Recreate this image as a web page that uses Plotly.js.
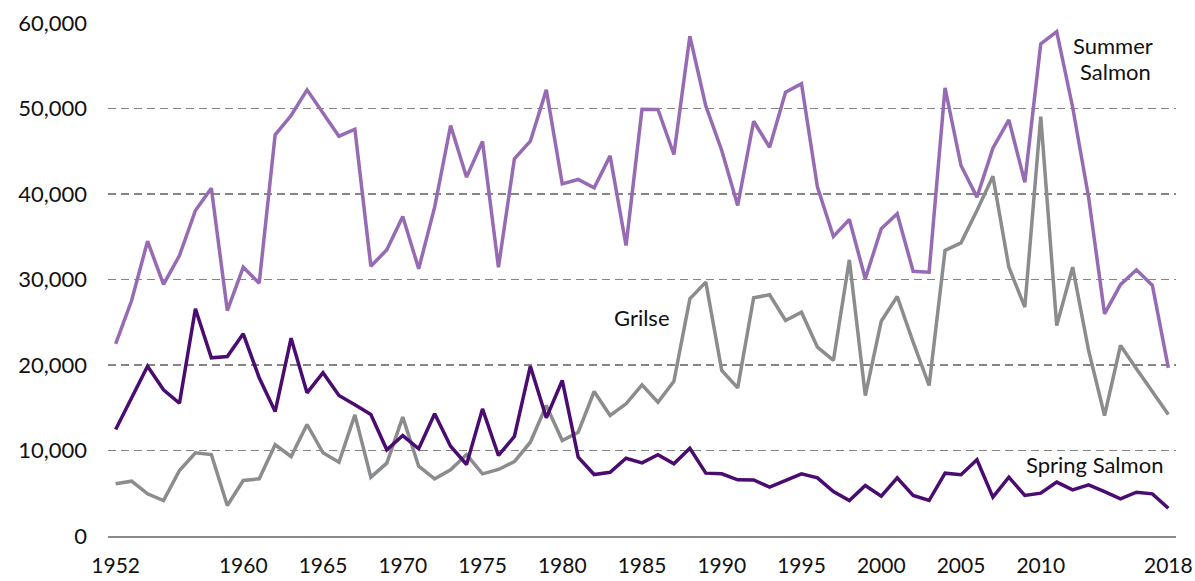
<!DOCTYPE html>
<html>
<head>
<meta charset="utf-8">
<script src="https://cdn.plot.ly/plotly-3.0.1.min.js"></script>
<style>
  html, body { margin: 0; padding: 0; background: #ffffff; }
  #chart { width: 1195px; height: 581px; }
</style>
</head>
<body>
<div id="chart"></div>
<script>
const years = [];
for (let y = 1952; y <= 2018; y++) years.push(y);

const summerSalmon = [
  22480, 27540, 34480, 29420, 32800, 38070, 40680, 26370, 31440, 29570,
  46920, 49180, 52180, 49500, 46760, 47580, 31560, 33470, 37370, 31250,
  38460, 48010, 41970, 46140, 31440, 44110, 46180, 52180, 41190, 41700,
  40720, 44460, 33980, 49920, 49880, 44620, 58460, 50300, 45090, 38650,
  48510, 45470, 51900, 52890, 40800, 35030, 37020, 30080, 35930, 37680,
  30970, 30850, 52420, 43330, 39630, 45360, 48670, 41380, 57560, 59000,
  50150, 39630, 25990, 29400, 31130, 29300, 19670
];

const springSalmon = [
  12460, 16160, 19860, 17100, 15530, 26570, 20840, 20990, 23650, 18500,
  14560, 23140, 16750, 19090, 16430, 15340, 14210, 10080, 11750, 10200,
  14290, 10500, 8360, 14870, 9420, 11640, 19860, 13820, 18190, 9220,
  7190, 7460, 9100, 8560, 9500, 8440, 10270, 7350, 7270, 6570,
  6550, 5710, 6490, 7270, 6800, 5200, 4150, 5910, 4660, 6800,
  4740, 4150, 7350, 7160, 8910, 4540, 6880, 4740, 5010, 6300,
  5400, 5990, 5200, 4350, 5120, 4930, 3250
];

const grilse = [
  6100, 6410, 4930, 4150, 7660, 9730, 9530, 3570, 6490, 6690,
  10670, 9300, 13040, 9730, 8630, 14170, 6880, 8520, 13900, 8160,
  6690, 7740, 9530, 7270, 7780, 8710, 10970, 15260, 11170, 12140,
  16900, 14090, 15460, 17680, 15650, 18100, 27740, 29690, 19360, 17330,
  27860, 28210, 25200, 26180, 22080, 20530, 32300, 16430, 25120, 28010,
  22670, 17600, 33390, 34290, 38070, 42080, 31440, 26760, 49060, 24620,
  31440, 21700, 14090, 22280, 19550, 16900, 14210
];

const xTickVals = [1952, 1960, 1965, 1970, 1975, 1980, 1985, 1990, 1995, 2000, 2005, 2010, 2018];
const xTickText = ["1952", "1960", "1965", "1970", "1975", "1980", "1985", "1990", "1995", "2000", "2005", "2010", "2018"];
const yTickVals = [0, 10000, 20000, 30000, 40000, 50000, 60000];

const FONT = 'Lato, "Open Sans", sans-serif';

const traces = [
  { x: years, y: grilse, name: 'Grilse', type: 'scatter', mode: 'lines',
    line: { color: '#8a8c8e', width: 3.5 } },
  { x: years, y: summerSalmon, name: 'Summer Salmon', type: 'scatter', mode: 'lines',
    line: { color: '#976bb4', width: 3.5 } },
  { x: years, y: springSalmon, name: 'Spring Salmon', type: 'scatter', mode: 'lines',
    line: { color: '#4b0c70', width: 3.5 } }
];

const layout = {
  width: 1195, height: 581,
  margin: { l: 108, r: 19, t: 23, b: 45, pad: 0 },
  paper_bgcolor: '#ffffff', plot_bgcolor: '#ffffff',
  showlegend: false,
  font: { family: FONT, size: 21, color: '#111111' },
  xaxis: {
    range: [1951.52, 2018.48],
    tickvals: xTickVals, ticktext: xTickText,
    showgrid: false, zeroline: false,
    showline: true, linecolor: '#8a8a8a', linewidth: 2,
    ticks: '', ticklabelstandoff: 10,
    tickfont: { family: FONT, size: 21, color: '#111111' },
    fixedrange: true
  },
  yaxis: {
    range: [0, 60000],
    tickvals: yTickVals, tickformat: ',d',
    showgrid: true, gridcolor: '#858585', gridwidth: 1.9, griddash: '8px,5px',
    zeroline: false, showline: false,
    ticks: '', ticklabelstandoff: 20,
    tickfont: { family: FONT, size: 22, color: '#111111' },
    fixedrange: true
  },
  annotations: [
    { x: 2014.53, y: 57400, xref: 'x', yref: 'y', text: 'Summer', showarrow: false,
      xanchor: 'center', yanchor: 'middle', font: { family: FONT, size: 22, color: '#111111' } },
    { x: 2014.69, y: 54350, xref: 'x', yref: 'y', text: 'Salmon', showarrow: false,
      xanchor: 'center', yanchor: 'middle', font: { family: FONT, size: 22, color: '#111111' } },
    { x: 1985.03, y: 25590, xref: 'x', yref: 'y', text: 'Grilse', showarrow: false,
      xanchor: 'center', yanchor: 'middle', font: { family: FONT, size: 22, color: '#111111' } },
    { x: 2013.34, y: 8400, xref: 'x', yref: 'y', text: 'Spring Salmon', showarrow: false,
      xanchor: 'center', yanchor: 'middle', font: { family: FONT, size: 22, color: '#111111' } }
  ]
};

Plotly.newPlot('chart', traces, layout, { displayModeBar: false, staticPlot: true });
</script>
</body>
</html>
